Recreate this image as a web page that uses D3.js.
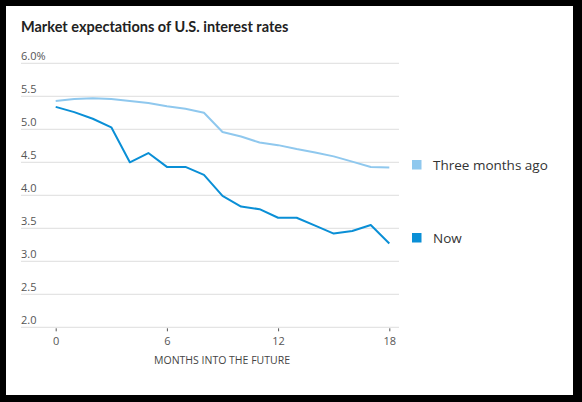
<!DOCTYPE html>
<html>
<head>
<meta charset="utf-8">
<script src="https://cdn.jsdelivr.net/npm/d3@7"></script>
<style>
  html, body { margin: 0; padding: 0; background: #000; }
  svg { display: block; }
</style>
</head>
<body>
<div id="chart"></div>
<script>
// Months into the future (x axis)
const months = d3.range(0, 19);

// Expected rate
const threeMonthsAgo = [5.43, 5.46, 5.47, 5.46, 5.43, 5.40, 5.35, 5.31, 5.25, 4.96,
                        4.89, 4.80, 4.76, 4.70, 4.65, 4.59, 4.51, 4.43, 4.42];
const now = [5.34, 5.26, 5.16, 5.03, 4.50, 4.64, 4.43, 4.43, 4.31, 3.99,
             3.83, 3.79, 3.66, 3.66, 3.54, 3.42, 3.46, 3.55, 3.27];

// Tick values / labels
const yTicks = [2.0, 2.5, 3.0, 3.5, 4.0, 4.5, 5.0, 5.5, 6.0];
const xTicks = [0, 6, 12, 18];
const seriesNames = ["Three months ago", "Now"];
const seriesColors = ["#8fc8ee", "#0a8fd6"];

const W = 582, H = 402;

const svg = d3.select("#chart")
    .append("svg")
    .attr("width", W)
    .attr("height", H);

// white card inside the black frame
svg.append("rect")
    .attr("x", 6).attr("y", 6)
    .attr("width", 567).attr("height", 389)
    .attr("fill", "#fff");

// Scales
const x = d3.scaleLinear().domain([0, 18]).range([55.7, 389.3]);
const y = d3.scaleLinear().domain([2, 6]).range([327.3, 63.3]);

// Title
svg.append("text")
    .attr("x", 21).attr("y", 31.5)
    .attr("font-family", "Lato, sans-serif")
    .attr("font-weight", "bold")
    .attr("font-size", 14.5)
    .attr("fill", "#222")
    .text("Market expectations of U.S. interest rates");

// Horizontal gridlines + labels sitting above them
const grid = svg.append("g");
grid.selectAll("line")
    .data(yTicks)
    .enter().append("line")
    .attr("x1", 21).attr("x2", 399)
    .attr("y1", d => y(d)).attr("y2", d => y(d))
    .attr("stroke", "#e4e4e4")
    .attr("stroke-width", 1.3);

grid.selectAll("text")
    .data(yTicks)
    .enter().append("text")
    .attr("x", 21)
    .attr("y", d => y(d) - 3)
    .attr("font-family", "'Open Sans', sans-serif")
    .attr("font-size", 11)
    .attr("fill", "#555")
    .text(d => d === 6 ? "6.0%" : d.toFixed(1));

// X axis: small ticks below the baseline, no domain line
const xAxis = svg.append("g")
    .attr("transform", "translate(0," + (y(2) + 1) + ")")
    .call(d3.axisBottom(x).tickValues(xTicks).tickSize(3).tickPadding(6));
xAxis.select(".domain").remove();
xAxis.selectAll("line").attr("stroke", "#555");
xAxis.selectAll("text")
    .attr("font-family", "'Open Sans', sans-serif")
    .attr("font-size", 11)
    .attr("fill", "#555");

svg.append("text")
    .attr("x", 222).attr("y", 364)
    .attr("text-anchor", "middle")
    .attr("font-family", "'Open Sans', sans-serif")
    .attr("font-size", 10.5)
    .attr("fill", "#444")
    .text("MONTHS INTO THE FUTURE");

// Lines
const line = d3.line()
    .x((d, i) => x(months[i]))
    .y(d => y(d));

[threeMonthsAgo, now].forEach((series, k) => {
    svg.append("path")
        .datum(series)
        .attr("d", line)
        .attr("fill", "none")
        .attr("stroke", seriesColors[k])
        .attr("stroke-width", 2)
        .attr("stroke-linejoin", "round");
});

// Legend, aligned next to each line's end
const legendY = [165, 238];
const legend = svg.selectAll(".legend")
    .data(seriesNames)
    .enter().append("g")
    .attr("class", "legend")
    .attr("transform", (d, i) => "translate(412," + legendY[i] + ")");

legend.append("rect")
    .attr("x", 0).attr("y", -5)
    .attr("width", 9.5).attr("height", 9.5)
    .attr("fill", (d, i) => seriesColors[i]);

legend.append("text")
    .attr("x", 21).attr("y", 5)
    .attr("font-family", "'Open Sans', sans-serif")
    .attr("font-size", 13.5)
    .attr("fill", "#333")
    .text(d => d);
</script>
</body>
</html>
